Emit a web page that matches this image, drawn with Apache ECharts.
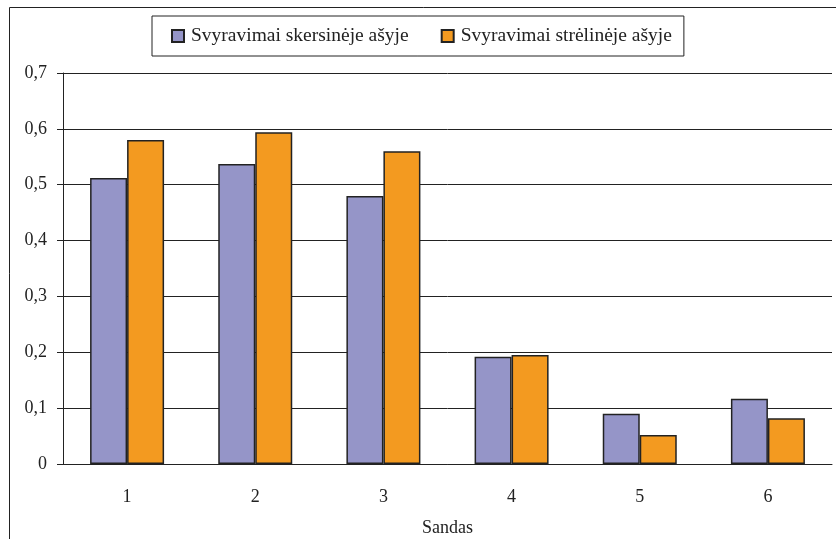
<!DOCTYPE html>
<html>
<head>
<meta charset="utf-8">
<script src="https://cdn.jsdelivr.net/npm/echarts@6/dist/echarts.min.js"></script>
<style>
  html, body { margin: 0; padding: 0; background: #fff; }
  #chart { width: 836px; height: 539px; }
</style>
</head>
<body>
<div id="chart"></div>
<script>
// data
const categories = ['1', '2', '3', '4', '5', '6']
const seriesNames = ['Svyravimai skersinėje ašyje', 'Svyravimai strėlinėje ašyje']
const transverse = [0.512, 0.537, 0.480, 0.192, 0.090, 0.117]
const longitudinal = [0.580, 0.594, 0.560, 0.195, 0.052, 0.082]

const font = 'Liberation Serif, Times New Roman, serif'
const ink = '#222'

const chart = echarts.init(document.getElementById('chart'))

const barStyle = (color) => ({
  color: color,
  borderColor: ink,
  borderWidth: 1.5
})

chart.setOption({
  animation: false,
  textStyle: { fontFamily: font, color: ink },
  graphic: [
    { // outer frame (only top and left are inside the picture)
      type: 'rect',
      shape: { x: 9.5, y: 7.5, width: 900, height: 600 },
      style: { fill: 'none', stroke: ink, lineWidth: 1 },
      silent: true
    }
  ],
  legend: {
    left: 152,
    top: 16,
    padding: [10, 12, 10, 19],
    itemGap: 32,
    itemWidth: 12,
    itemHeight: 12,
    icon: 'rect',
    borderColor: ink,
    borderWidth: 1,
    backgroundColor: '#fff',
    textStyle: { fontFamily: font, fontSize: 19.5, color: ink, padding: [0, 0, 0, 2] },
    data: seriesNames
  },
  grid: {
    left: 63,
    right: 4,
    top: 73,
    bottom: 75,
    outerBoundsMode: 'none',
    containLabel: false
  },
  xAxis: {
    type: 'category',
    data: categories,
    name: 'Sandas',
    nameLocation: 'middle',
    nameGap: 55,
    nameTextStyle: { fontFamily: font, fontSize: 18, color: ink },
    axisLine: { lineStyle: { color: ink } },
    axisTick: { length: 6, lineStyle: { color: ink } },
    axisLabel: { fontFamily: font, fontSize: 18, color: ink, margin: 24 }
  },
  yAxis: {
    type: 'value',
    min: 0,
    max: 0.7,
    interval: 0.1,
    axisLine: { show: true, lineStyle: { color: ink } },
    axisTick: { show: true, length: 6, lineStyle: { color: ink } },
    axisLabel: {
      fontFamily: font,
      fontSize: 18,
      color: ink,
      margin: 16,
      formatter: (v) => (v === 0 ? '0' : v.toFixed(1).replace('.', ','))
    },
    splitLine: { lineStyle: { color: ink, width: 1 } }
  },
  series: [
    {
      name: seriesNames[0],
      type: 'bar',
      data: transverse,
      barWidth: 37,
      barGap: '0%',
      itemStyle: barStyle('#9595c8')
    },
    {
      name: seriesNames[1],
      type: 'bar',
      data: longitudinal,
      barWidth: 37,
      barGap: '0%',
      itemStyle: barStyle('#f39a20')
    }
  ]
})
</script>
</body>
</html>
